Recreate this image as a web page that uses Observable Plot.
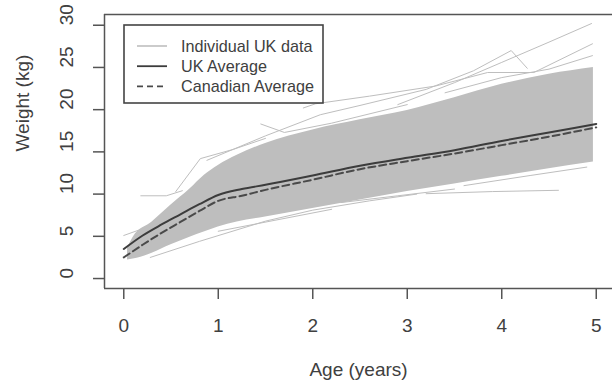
<!DOCTYPE html>
<html><head><meta charset="utf-8">
<script src="https://cdn.jsdelivr.net/npm/d3@7"></script>
<script src="https://cdn.jsdelivr.net/npm/@observablehq/plot@0.6"></script>
<style>
body{margin:0;background:#fff;}
#wrap{position:relative;width:612px;height:387px;overflow:hidden;font-family:"Liberation Sans",Arial,sans-serif;}
#legend{position:absolute;left:123px;top:24px;}
</style></head><body><div id="wrap"></div>
<script>
// ---- data ----
const avgAge          = [0, 0.2, 0.4, 0.6, 0.8, 1.0, 1.25, 1.5, 2.0, 2.5, 3.0, 3.5, 4.0, 4.5, 5.0];
const ukAverage       = [3.5, 5.1, 6.4, 7.6, 8.8, 9.9, 10.6, 11.1, 12.2, 13.35, 14.3, 15.2, 16.3, 17.3, 18.3];
const canadianAverage = [2.5, 4.0, 5.4, 6.7, 8.0, 9.2, 9.8, 10.5, 11.7, 12.95, 13.9, 14.8, 15.8, 16.8, 17.9];

// envelope of the dense mass of individual UK growth curves
const bandAge   = [0.04, 0.1, 0.3, 0.5, 0.7, 0.85, 1.0, 1.2, 1.5, 2.0, 2.5, 3.0, 3.5, 4.0, 4.5, 4.97];
const bandUpper = [3.6, 4.9, 6.7, 8.7, 10.6, 12.2, 13.4, 14.6, 16.0, 17.6, 18.8, 19.9, 21.4, 23.0, 24.2, 25.0];
const bandLower = [2.2, 2.3, 3.0, 4.0, 4.9, 5.5, 6.1, 6.7, 7.3, 8.3, 9.3, 10.3, 11.2, 12.1, 13.0, 13.8];

// individual curves that stand out from the mass: [age, weight] pairs
const individualCurves = [
  [[2.9,20.6],[3.5,23.2],[4.0,25.6],[4.5,28.0],[4.95,30.2]],
  [[0.88,14.0],[1.5,16.9],[2.08,19.4],[2.5,20.5],[3.2,22.4],[3.7,24.6],[4.1,27.0],[4.27,24.9]],
  [[1.45,18.3],[1.7,17.3],[2.2,18.4],[3.0,20.6]],
  [[1.9,20.2],[2.03,20.7],[2.6,21.6],[3.3,22.8],[3.85,24.4],[4.34,24.4],[4.96,27.8]],
  [[3.4,22.0],[4.0,23.8],[4.5,24.8],[4.96,26.4]],
  [[0.55,10.3],[0.81,14.2],[1.16,15.3],[1.5,16.6]],
  [[0.18,9.8],[0.45,9.8],[0.62,10.4]],
  [[0,5.1],[0.2,5.9],[0.3,6.6]],
  [[0.28,2.5],[0.8,4.4],[1.5,6.8],[2.0,8.1],[2.6,9.2],[3.1,10.0]],
  [[3.2,10.05],[3.9,10.3],[4.6,10.45]],
  [[2.3,9.0],[2.9,9.8],[3.5,10.6]],
  [[1.0,5.6],[1.6,6.9],[2.2,8.2]],
  [[3.6,11.0],[4.3,12.2],[4.9,13.2]]
];

const xTicks = [0, 1, 2, 3, 4, 5];
const yTicks = [0, 5, 10, 15, 20, 25, 30];
const legendLabels = ["Individual UK data", "UK Average", "Canadian Average"];

// ---- tables ----
const avgRows = avgAge.map((a, i) => ({age: a, uk: ukAverage[i], ca: canadianAverage[i]}));
const bandRows = bandAge.map((a, i) => ({age: a, lo: bandLower[i], hi: bandUpper[i]}));
const curveRows = individualCurves.flatMap((c, k) => c.map(([a, w]) => ({id: k, age: a, w})));

const xDomain = [-0.204, 5.172];
const yDomain = [-1.18, 31.27];
const grey = "#bebebe", ink = "#3c3c3c", axisInk = "#555";

const chart = Plot.plot({
  width: 612, height: 387,
  marginLeft: 104, marginRight: 0, marginTop: 14, marginBottom: 99,
  style: {fontFamily: '"Liberation Sans", Arial, sans-serif', color: "#404040", background: "#fff"},
  x: {domain: xDomain},
  y: {domain: yDomain},
  marks: [
    Plot.areaY(bandRows, {x: "age", y1: "lo", y2: "hi", fill: grey, curve: "monotone-x"}),
    Plot.line(curveRows, {x: "age", y: "w", z: "id", stroke: grey, strokeWidth: 1}),
    Plot.line(avgRows, {x: "age", y: "uk", stroke: ink, strokeWidth: 2, curve: "monotone-x"}),
    Plot.line(avgRows, {x: "age", y: "ca", stroke: "#4a4a4a", strokeWidth: 2, strokeDasharray: "7,4", curve: "monotone-x"}),
    // box (left, top, bottom)
    Plot.ruleX([xDomain[0]], {stroke: axisInk, strokeWidth: 1.5}),
    Plot.ruleY([yDomain[0], yDomain[1]], {stroke: axisInk, strokeWidth: 1.5}),
    Plot.axisX({ticks: xTicks, tickSize: 11, tickPadding: 19, fontSize: 19, label: null, tickFormat: d => String(d), stroke: axisInk, strokeWidth: 1.5, fill: "#404040"}),
    Plot.axisY({ticks: yTicks, tickSize: 11, tickFormat: () => "", label: null, stroke: axisInk, strokeWidth: 1.5}),
    Plot.text(yTicks, {y: d => d, text: d => String(d), frameAnchor: "left", dx: -38, rotate: -90, fontSize: 19, fill: "#404040"}),
    Plot.text(["Weight (kg)"], {text: d => d, frameAnchor: "left", dx: -82, rotate: -90, fontSize: 19, fill: "#404040"}),
    Plot.text(["Age (years)"], {text: d => d, frameAnchor: "bottom", dy: 87, fontSize: 19, fill: "#404040"})
  ]
});
const wrap = document.getElementById("wrap");
wrap.appendChild(chart);

// ---- legend (R-style box, top-left inside plot) ----
const lg = d3.select(wrap).append("svg").attr("id", "legend").attr("width", 201).attr("height", 80);
lg.append("rect").attr("x", 1).attr("y", 1).attr("width", 199).attr("height", 78)
  .attr("fill", "#fff").attr("stroke", "#444").attr("stroke-width", 1.6);
const styles = [
  {stroke: grey, dash: null, w: 1.6},
  {stroke: ink, dash: null, w: 1.8},
  {stroke: "#4a4a4a", dash: "6,4", w: 1.8}
];
legendLabels.forEach((t, i) => {
  const y = 22 + i * 20.2;
  lg.append("line").attr("x1", 14).attr("x2", 44).attr("y1", y).attr("y2", y)
    .attr("stroke", styles[i].stroke).attr("stroke-width", styles[i].w)
    .attr("stroke-dasharray", styles[i].dash);
  lg.append("text").attr("x", 58).attr("y", y).attr("dy", "0.35em")
    .attr("font-size", 16.2).attr("fill", "#404040")
    .attr("font-family", '"Liberation Sans", Arial, sans-serif').text(t);
});
</script>
</body></html>
